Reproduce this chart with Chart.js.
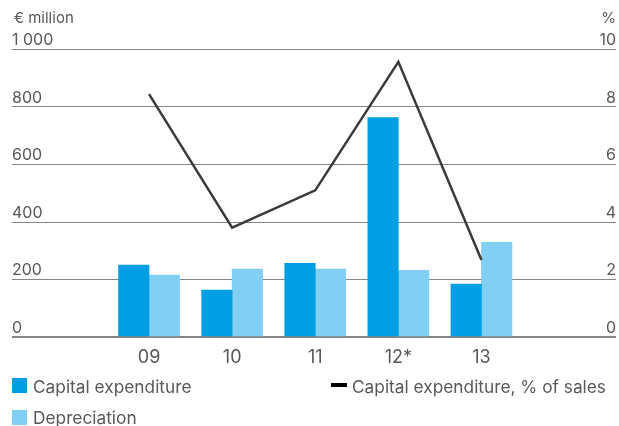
<!DOCTYPE html>
<html>
<head>
<meta charset="utf-8">
<script src="https://cdn.jsdelivr.net/npm/chart.js@4"></script>
<style>
  body { margin: 0; background: #fff; }
  #wrap { position: relative; width: 619px; height: 426px; font-family: Inter, "DejaVu Sans", sans-serif; color: #585858; }
  #wrap canvas { position: absolute; left: 0; top: 0; }
  .unit { position: absolute; top: 8px; font-size: 15px; }
  .leg { position: absolute; font-size: 17.3px; line-height: 20px; }
  .sw { position: absolute; width: 15px; height: 15px; }
</style>
</head>
<body>
<div id="wrap">
  <canvas id="capexChart" width="619" height="426"></canvas>
  <div class="unit" style="left:14px">€ million</div>
  <div class="unit" style="right:3px">%</div>

  <div class="sw" style="left:12px;top:378px;background:#009fe3"></div>
  <div class="leg" style="left:33px;top:377px">Capital expenditure</div>
  <div class="sw" style="left:12px;top:410px;background:#82cff4"></div>
  <div class="leg" style="left:33px;top:408px">Depreciation</div>
  <div class="sw" style="left:331px;top:383px;width:16px;height:4px;background:#000"></div>
  <div class="leg" style="left:352px;top:377px">Capital expenditure, % of sales</div>
</div>

<script>
// values
const years        = ['09', '10', '11', '12*', '13'];
const capex        = [250, 163, 256, 763, 184];
const depreciation = [215, 236, 236, 232, 329];
const capexPct     = [8.45, 3.8, 5.1, 9.57, 2.68];
const leftTicks    = [0, 200, 400, 600, 800, 1000];
const rightTicks   = [0, 2, 4, 6, 8, 10];

const TEXT = '#585858';
const GRID = '#858585';

function spaced(v) {
  return String(v).replace(/\B(?=(\d{3})+(?!\d))/g, ' ');
}

const ctx = document.getElementById('capexChart').getContext('2d');
new Chart(ctx, {
  type: 'bar',
  data: {
    datasets: [
      {
        type: 'line',
        label: 'Capital expenditure, % of sales',
        data: capexPct.map((v, i) => ({ x: i, y: v })),
        yAxisID: 'y1',
        borderColor: '#3a3a3a',
        borderWidth: 2.5,
        pointRadius: 0,
        tension: 0,
        order: 0,
      },
      {
        label: 'Capital expenditure',
        data: capex.map((v, i) => ({ x: i, y: v })),
        backgroundColor: '#009fe3',
        barThickness: 30.5,
        yAxisID: 'y',
        order: 1,
      },
      {
        label: 'Depreciation',
        data: depreciation.map((v, i) => ({ x: i, y: v })),
        backgroundColor: '#82cff4',
        barThickness: 30.5,
        yAxisID: 'y',
        order: 1,
      },
    ],
  },
  options: {
    responsive: false,
    animation: false,
    layout: { padding: { top: 49.5, left: 12, right: 3, bottom: 0 } },
    plugins: { legend: { display: false }, tooltip: { enabled: false } },
    scales: {
      x: {
        type: 'linear',
        offset: false,
        min: -1.649,
        max: 5.619,
        grid: { display: false },
        border: { display: false },
        afterBuildTicks: (s) => { s.ticks = years.map((_, i) => ({ value: i })); },
        afterFit: (s) => { s.height = 89; },
        ticks: {
          color: TEXT,
          font: { family: 'Inter', size: 18 },
          padding: 2,
          maxRotation: 0,
          autoSkip: false,
          callback: (v) => years[v] ?? '',
        },
      },
      y: {
        position: 'left',
        min: 0,
        max: 1000,
        afterBuildTicks: (s) => { s.ticks = leftTicks.map(v => ({ value: v })); },
        grid: {
          color: GRID,
          lineWidth: (c) => (c.tick && c.tick.value === 0 ? 2 : 1),
          drawTicks: false,
        },
        border: { display: false },
        ticks: {
          mirror: true,
          padding: 0,
          labelOffset: -9,
          color: TEXT,
          font: { family: 'Inter', size: 16 },
          callback: (v) => spaced(v),
        },
      },
      y1: {
        position: 'right',
        min: 0,
        max: 10,
        afterBuildTicks: (s) => { s.ticks = rightTicks.map(v => ({ value: v })); },
        grid: { display: false, drawTicks: false },
        border: { display: false },
        ticks: {
          mirror: true,
          padding: 0,
          labelOffset: -9,
          color: TEXT,
          font: { family: 'Inter', size: 16 },
        },
      },
    },
  },
});
</script>
</body>
</html>
